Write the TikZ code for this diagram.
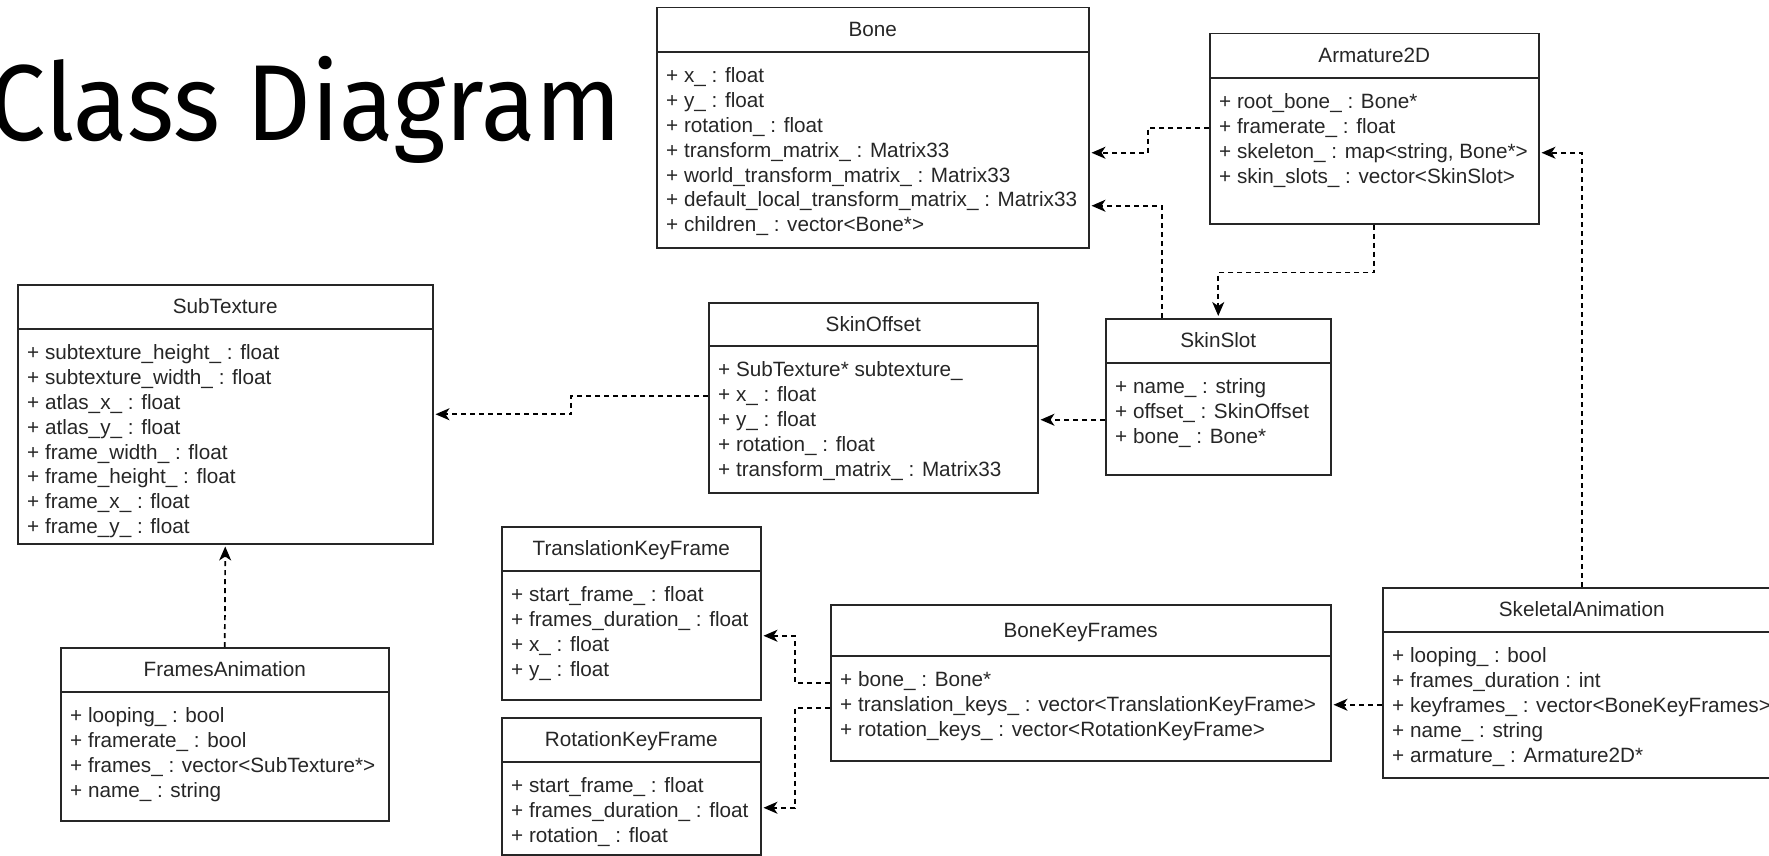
\documentclass[tikz,border=0pt]{standalone}
\usepackage{fontspec}
\setmainfont{Liberation Sans}
\newfontfamily\titlefont[FakeStretch=0.93]{Fira Sans}
\usetikzlibrary{arrows.meta}

\begin{document}
\begin{tikzpicture}[x=1pt,y=-1pt,>={Stealth[length=14pt,width=12pt,inset=4pt]},
  cls/.style={draw=black!85,line width=1.5pt,anchor=north west,inner sep=0pt},
  hd/.style={font=\fontsize{20.7}{24.8}\selectfont,text=black!85,inner sep=0pt,text height=14.8pt,text depth=0pt},
  sep/.style={draw=black!85,line width=1.5pt},
  mem/.style={font=\fontsize{20.7}{24.8}\selectfont,text=black!85,align=left,anchor=north west,inner sep=0pt,execute at begin node=\strut},
  dep/.style={->,draw=black,line width=1.7pt,dash pattern=on 5pt off 4pt,shorten >=2pt}]
  \useasboundingbox (0,0) rectangle (1769,856);

  \node[font=\titlefont\fontsize{108}{108}\selectfont,anchor=base east,inner sep=0pt] (title) at (622,140) {Class Diagram};

  % Bone
  \node[cls,minimum width=432pt,minimum height=240pt] (bone) at (656,7) {};
  \node[hd] at ([yshift=-22.5pt]bone.north) {Bone};
  \draw[sep] ([yshift=-45pt]bone.north west) -- ([yshift=-45pt]bone.north east);
  \node[mem] at ([xshift=10pt,yshift=-60.6pt]bone.north west) {+ x\_ : float\\+ y\_ : float\\+ rotation\_ : float\\+ transform\_matrix\_ : Matrix33\\+ world\_transform\_matrix\_ : Matrix33\\+ default\_local\_transform\_matrix\_ : Matrix33\\+ children\_ : vector<Bone*>};

  % Armature2D
  \node[cls,minimum width=329pt,minimum height=190pt] (arm) at (1209,33) {};
  \node[hd] at ([yshift=-22.5pt]arm.north) {Armature2D};
  \draw[sep] ([yshift=-45pt]arm.north west) -- ([yshift=-45pt]arm.north east);
  \node[mem] at ([xshift=10pt,yshift=-60.6pt]arm.north west) {+ root\_bone\_ : Bone*\\+ framerate\_ : float\\+ skeleton\_ : map<string, Bone*>\\+ skin\_slots\_ : vector<SkinSlot>};

  % SubTexture
  \node[cls,minimum width=415pt,minimum height=259pt] (subtex) at (17,284) {};
  \node[hd] at ([yshift=-22.5pt]subtex.north) {SubTexture};
  \draw[sep] ([yshift=-45pt]subtex.north west) -- ([yshift=-45pt]subtex.north east);
  \node[mem] at ([xshift=10pt,yshift=-60.6pt]subtex.north west) {+ subtexture\_height\_ : float\\+ subtexture\_width\_ : float\\+ atlas\_x\_ : float\\+ atlas\_y\_ : float\\+ frame\_width\_ : float\\+ frame\_height\_ : float\\+ frame\_x\_ : float\\+ frame\_y\_ : float};

  % SkinOffset
  \node[cls,minimum width=329pt,minimum height=190pt] (skinoff) at (708,302) {};
  \node[hd] at ([yshift=-22pt]skinoff.north) {SkinOffset};
  \draw[sep] ([yshift=-44pt]skinoff.north west) -- ([yshift=-44pt]skinoff.north east);
  \node[mem] at ([xshift=10pt,yshift=-59.6pt]skinoff.north west) {+ SubTexture* subtexture\_\\+ x\_ : float\\+ y\_ : float\\+ rotation\_ : float\\+ transform\_matrix\_ : Matrix33};

  % SkinSlot
  \node[cls,minimum width=225pt,minimum height=156pt] (slot) at (1105,318) {};
  \node[hd] at ([yshift=-22.5pt]slot.north) {SkinSlot};
  \draw[sep] ([yshift=-45pt]slot.north west) -- ([yshift=-45pt]slot.north east);
  \node[mem] at ([xshift=10pt,yshift=-60.6pt]slot.north west) {+ name\_ : string\\+ offset\_ : SkinOffset\\+ bone\_ : Bone*};

  % TranslationKeyFrame
  \node[cls,minimum width=259pt,minimum height=173pt] (trans) at (501,526) {};
  \node[hd] at ([yshift=-22.5pt]trans.north) {TranslationKeyFrame};
  \draw[sep] ([yshift=-45pt]trans.north west) -- ([yshift=-45pt]trans.north east);
  \node[mem] at ([xshift=10pt,yshift=-60.6pt]trans.north west) {+ start\_frame\_ : float\\+ frames\_duration\_ : float\\+ x\_ : float\\+ y\_ : float};

  % RotationKeyFrame
  \node[cls,minimum width=259pt,minimum height=137pt] (rot) at (501,717) {};
  \node[hd] at ([yshift=-22.5pt]rot.north) {RotationKeyFrame};
  \draw[sep] ([yshift=-45pt]rot.north west) -- ([yshift=-45pt]rot.north east);
  \node[mem] at ([xshift=10pt,yshift=-60.6pt]rot.north west) {+ start\_frame\_ : float\\+ frames\_duration\_ : float\\+ rotation\_ : float};

  % BoneKeyFrames
  \node[cls,minimum width=500pt,minimum height=156pt] (bkf) at (830,604) {};
  \node[hd] at ([yshift=-26pt]bkf.north) {BoneKeyFrames};
  \draw[sep] ([yshift=-52pt]bkf.north west) -- ([yshift=-52pt]bkf.north east);
  \node[mem] at ([xshift=10pt,yshift=-67.6pt]bkf.north west) {+ bone\_ : Bone*\\+ translation\_keys\_ : vector<TranslationKeyFrame>\\+ rotation\_keys\_ : vector<RotationKeyFrame>};

  % SkeletalAnimation
  \node[cls,minimum width=398pt,minimum height=190pt] (skel) at (1382,587) {};
  \node[hd] at ([yshift=-22.5pt]skel.north) {SkeletalAnimation};
  \draw[sep] ([yshift=-45pt]skel.north west) -- ([yshift=-45pt]skel.north east);
  \node[mem] at ([xshift=10pt,yshift=-60.6pt]skel.north west) {+ looping\_ : bool\\+ frames\_duration : int\\+ keyframes\_ : vector<BoneKeyFrames>\\+ name\_ : string\\+ armature\_ : Armature2D*};

  % FramesAnimation
  \node[cls,minimum width=328pt,minimum height=173pt] (frames) at (60,647) {};
  \node[hd] at ([yshift=-22.5pt]frames.north) {FramesAnimation};
  \draw[sep] ([yshift=-45pt]frames.north west) -- ([yshift=-45pt]frames.north east);
  \node[mem] at ([xshift=10pt,yshift=-60.6pt]frames.north west) {+ looping\_ : bool\\+ framerate\_ : bool\\+ frames\_ : vector<SubTexture*>\\+ name\_ : string};

  % dependencies
  \draw[dep] ([yshift=1pt]arm.west) -- ++(-61,0) |- ([yshift=-25pt]bone.east);
  \draw[dep] ([xshift=-56.5pt]slot.north) |- ([yshift=-78pt]bone.east);
  \draw[dep] (arm.south) -- ++(0,48) -| (slot.north);
  \draw[dep] (skel.north) |- ([yshift=-24pt]arm.east);
  \draw[dep] ([yshift=2pt]skinoff.west) -- ++(-137,0) |- (subtex.east);
  \draw[dep] ([yshift=-23pt]slot.west) coordinate (s6) -- (skinoff.east |- s6);
  \draw[dep] (frames.north) -- (subtex.south);
  \draw[dep] (bkf.west) -- ++(-35,0) |- ([yshift=-22.5pt]trans.east);
  \draw[dep] ([yshift=-25pt]bkf.west) -- ++(-35,0) |- ([yshift=-21.5pt]rot.east);
  \draw[dep] ([yshift=-22pt]skel.west) coordinate (s10) -- (bkf.east |- s10);
\end{tikzpicture}
\end{document}
